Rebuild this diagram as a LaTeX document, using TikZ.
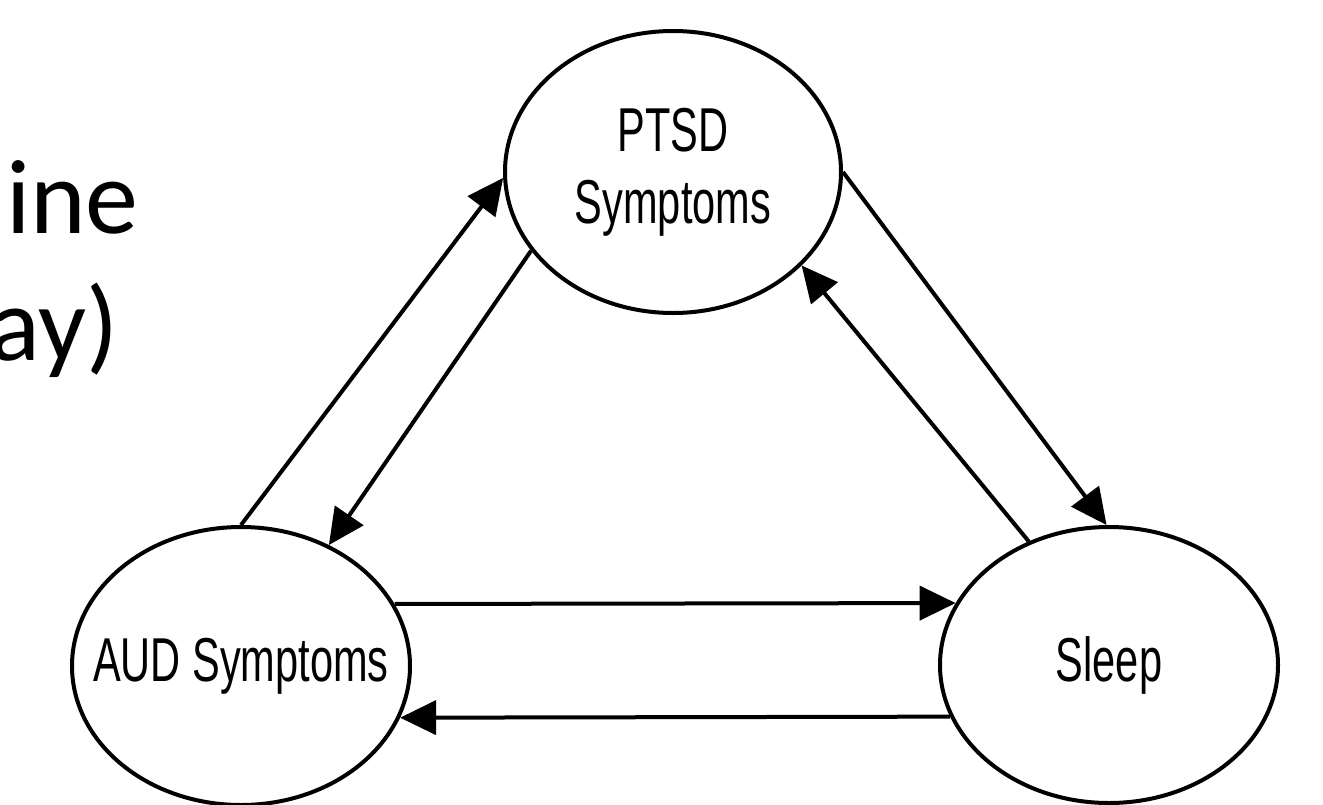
\documentclass[tikz,border=0pt]{standalone}
\usepackage{fontspec}
\usepackage{graphicx}
\usetikzlibrary{shapes.geometric,arrows.meta}
\newfontfamily\arialfont{Liberation Sans}
\newfontfamily\calfont{Carlito}
\newcommand{\nar}[1]{\scalebox{0.67}[1]{#1}}
\begin{document}
\begin{tikzpicture}[x=1pt,y=1pt,
  ell/.style={ellipse, draw=black, line width=4pt, inner sep=0pt},
  lab/.style={font=\arialfont\fontsize{62}{72}\selectfont, align=center, inner sep=0pt},
  conn/.style={draw=black, line width=4pt, -{Triangle[length=36pt,width=34pt]}},
  side/.style={font=\calfont\fontsize{106}{127}\selectfont, inner sep=0pt, anchor=base east}]
\useasboundingbox (0,0) rectangle (1323,-804);
\fill[white] (0,0) rectangle (1323,-804);
% cropped title fragments
\node[side] (t1) at (139,-233) {ine};
\node[side] (t2) at (119,-360) {ay)};
% ellipses
\node[ell, minimum width=336pt, minimum height=282pt] (ptsd) at (673,-172) {};
\node[ell, minimum width=338pt, minimum height=278pt] (aud) at (241,-666) {};
\node[ell, minimum width=338pt, minimum height=276pt] (sleep) at (1109,-665) {};
% labels
\node[lab] (ptsdt) at (ptsd.center) {\nar{PTSD}\\\nar{Symptoms}};
\node[lab] (audt) at (aud.center) {\nar{AUD Symptoms}};
\node[lab] (sleept) at (sleep.center) {\nar{Sleep}};
% connectors
\draw[conn] (aud.90) -- (ptsd.182);
\draw[conn] (ptsd.209.5) -- (aud.54);
\draw[conn] (ptsd.0) -- (sleep.91);
\draw[conn] (sleep.123.3) -- (ptsd.324.6);
\draw[conn] (aud.22) -- (sleep.158);
\draw[conn] (sleep.198) -- (aud.342);
\end{tikzpicture}
\end{document}
